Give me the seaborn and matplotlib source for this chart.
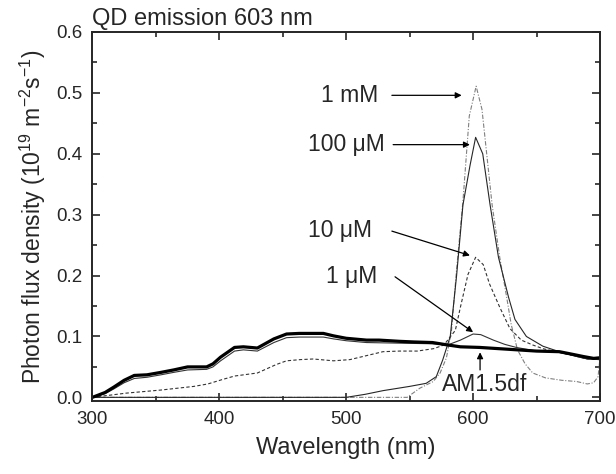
import numpy as np
import pandas as pd
import matplotlib
matplotlib.use("Agg")
import matplotlib.pyplot as plt
import seaborn as sns
from matplotlib.ticker import MultipleLocator

# ---------------------------------------------------------------
# Datos (longitud de onda en nm, flujo en 1e19 m-2 s-1)
# ---------------------------------------------------------------
am15_wl = [300, 310, 317, 325, 333, 343, 354, 364, 375, 390, 395, 401, 412, 419,
           430, 443, 453, 463, 482, 490, 500, 516, 526, 542, 553, 568, 580, 590,
           605, 620, 635, 650, 668, 680, 687, 695, 700]
am15_flux = [0.0, 0.008, 0.017, 0.028, 0.036, 0.037, 0.041, 0.045, 0.050, 0.050,
             0.055, 0.066, 0.082, 0.083, 0.081, 0.096, 0.104, 0.105, 0.105, 0.101,
             0.097, 0.094, 0.094, 0.092, 0.091, 0.090, 0.086, 0.083, 0.082, 0.080,
             0.078, 0.076, 0.075, 0.070, 0.067, 0.064, 0.065]

um1_wl = [300, 310, 317, 325, 333, 343, 354, 364, 375, 390, 395, 401, 412, 419,
          430, 443, 453, 463, 482, 490, 500, 516, 542, 568, 580, 590, 600, 606,
          616, 625, 634, 650, 668, 687, 700]
um1_flux = [0.0, 0.006, 0.014, 0.024, 0.031, 0.033, 0.037, 0.041, 0.045, 0.046,
            0.050, 0.060, 0.076, 0.078, 0.076, 0.090, 0.098, 0.099, 0.099, 0.096,
            0.093, 0.090, 0.089, 0.088, 0.086, 0.094, 0.104, 0.103, 0.094, 0.087,
            0.082, 0.076, 0.074, 0.065, 0.063]

um10_wl = [300, 327, 354, 380, 391, 402, 412, 430, 445, 453, 464, 474, 490, 503,
           515, 529, 542, 556, 569, 577, 586, 590, 596, 602, 608, 613, 621, 629,
           638, 647, 655, 665, 680, 690, 700]
um10_flux = [0.0, 0.007, 0.012, 0.018, 0.022, 0.029, 0.035, 0.040, 0.054, 0.060,
             0.062, 0.063, 0.060, 0.062, 0.068, 0.075, 0.076, 0.076, 0.080, 0.086,
             0.110, 0.148, 0.202, 0.230, 0.218, 0.186, 0.148, 0.113, 0.094, 0.086,
             0.080, 0.075, 0.068, 0.063, 0.062]

um100_wl = [300, 500, 515, 529, 550, 563, 571, 576, 582, 587, 592, 597.6, 602,
            607.6, 613.4, 620, 628, 633, 642, 655, 665, 680, 690, 700]
um100_flux = [0.0, 0.0, 0.005, 0.011, 0.018, 0.023, 0.034, 0.061, 0.100, 0.200,
              0.316, 0.381, 0.427, 0.400, 0.316, 0.230, 0.164, 0.128, 0.100,
              0.084, 0.077, 0.068, 0.063, 0.062]

mm1_wl = [300, 548, 558, 568.6, 574, 579, 583, 587, 592, 597, 602.4, 607, 615,
          621, 626.5, 630, 635, 641, 647, 657, 670, 681.6, 690, 695, 698.5, 700]
mm1_flux = [0.0, 0.0, 0.015, 0.026, 0.040, 0.065, 0.110, 0.210, 0.322, 0.462,
            0.511, 0.473, 0.316, 0.230, 0.164, 0.120, 0.078, 0.055, 0.040, 0.032,
            0.028, 0.026, 0.022, 0.024, 0.034, 0.065]

sns.set_style("ticks")
plt.rcParams['font.family'] = ['Liberation Sans', 'DejaVu Sans']
plt.rcParams['mathtext.default'] = 'regular'

fig, ax = plt.subplots(figsize=(6.16, 4.74), dpi=100)
fig.subplots_adjust(left=0.150, right=0.974, top=0.9325, bottom=0.154)

# curvas (orden: de fondo a frente)
curvas = [
    (mm1_wl, mm1_flux, dict(color='0.5', lw=0.8, dashes=(4, 1.5, 1, 1.5))),
    (um100_wl, um100_flux, dict(color='0.15', lw=0.8)),
    (um10_wl, um10_flux, dict(color='0.2', lw=0.8, dashes=(3, 2))),
    (um1_wl, um1_flux, dict(color='0.2', lw=0.8)),
    (am15_wl, am15_flux, dict(color='black', lw=2.3)),
]
for wl, fl, estilo in curvas:
    df = pd.DataFrame({'wl': wl, 'flux': fl})
    sns.lineplot(data=df, x='wl', y='flux', ax=ax, estimator=None, sort=False, **estilo)

ax.set_xlim(300, 700)
ax.set_ylim(-0.006, 0.6)
ax.xaxis.set_major_locator(MultipleLocator(100))
ax.xaxis.set_minor_locator(MultipleLocator(50))
ax.yaxis.set_major_locator(MultipleLocator(0.1))
ax.yaxis.set_minor_locator(MultipleLocator(0.05))
ax.yaxis.set_major_formatter(matplotlib.ticker.FormatStrFormatter('%.1f'))
ax.tick_params(which='both', direction='in', top=True, right=True, width=1.2,
               labelsize=13.5, pad=7)
ax.tick_params(which='major', length=6)
ax.tick_params(which='minor', length=3.5)
for s in ax.spines.values():
    s.set_linewidth(1.4)

ax.set_xlabel("Wavelength (nm)", fontsize=17, labelpad=7)
ax.set_ylabel(r"Photon flux density (10$^{19}$ m$^{-2}$s$^{-1}$)", fontsize=16.5, labelpad=6)
ax.text(0.0, 1.019, "QD emission 603 nm", transform=ax.transAxes, fontsize=17,
        ha='left', va='baseline')

# etiquetas con flechas
flecha = dict(arrowstyle='-|>', color='black', lw=0.9, mutation_scale=9,
              shrinkA=0, shrinkB=0)
etiquetas = [
    ("1 mM", (503, 0.496), (536, 0.496), (591, 0.496)),
    ("100 \u03bcM", (500, 0.415), (537, 0.415), (597.5, 0.415)),
    ("10 \u03bcM", (495, 0.274), (536, 0.273), (597.5, 0.233)),
    ("1 \u03bcM", (504, 0.199), (538.5, 0.198), (600, 0.107)),
]
for txt, pos_txt, ini, fin in etiquetas:
    ax.text(pos_txt[0], pos_txt[1], txt, fontsize=16.5, ha='center', va='center')
    ax.annotate("", xy=fin, xytext=ini, arrowprops=flecha)

ax.text(609, 0.021, "AM1.5df", fontsize=16.5, ha='center', va='center')
ax.annotate("", xy=(605.5, 0.074), xytext=(605.5, 0.045), arrowprops=flecha)

plt.savefig("out.png", dpi=100)
